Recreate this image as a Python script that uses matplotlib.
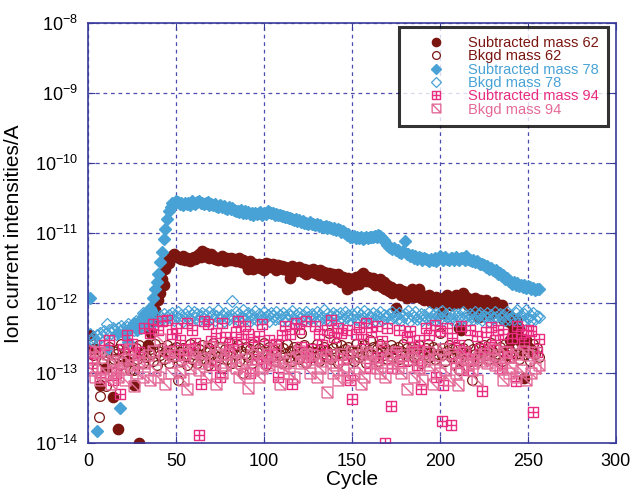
import numpy as np
import matplotlib
matplotlib.use("Agg")
import matplotlib.pyplot as plt
from matplotlib.path import Path

plt.rcParams['font.family'] = ['Liberation Sans', 'DejaVu Sans']
plt.rcParams['mathtext.default'] = 'regular'

# ion currents per cycle, stored in units of 1e-14 A (0 = not positive, not drawn)
cycles = np.arange(1, 257)

sub62 = [
    35, 0, 22, 0, 0, 0, 6.8, 0, 0, 12, 0, 0, 0, 4.6, 0, 0,
    1.6, 0, 0, 0, 0, 15, 0, 0, 0, 6.8, 0, 0, 1.0, 0, 0, 0,
    0, 25, 0, 38, 55, 80, 130, 110, 140, 220, 180, 310, 400, 380, 450, 470,
    500, 480, 460, 450, 430, 470, 420, 450, 410, 400, 440, 460, 430, 480, 500, 460,
    550, 480, 520, 460, 440, 500, 470, 430, 450, 420, 450, 470, 430, 400, 440, 420,
    450, 410, 430, 400, 420, 440, 390, 410, 380, 360, 310, 400, 350, 310, 370, 340,
    360, 320, 350, 300, 380, 340, 360, 330, 360, 340, 300, 350, 320, 340, 310, 330,
    300, 320, 230, 340, 310, 290, 320, 330, 300, 280, 310, 260, 300, 280, 290, 310,
    270, 290, 250, 300, 260, 280, 250, 230, 270, 240, 260, 250, 220, 260, 230, 200,
    240, 210, 160, 230, 200, 220, 180, 240, 210, 190, 250, 270, 230, 210, 240, 220,
    200, 230, 180, 210, 190, 220, 170, 200, 160, 180, 150, 170, 140, 160, 87, 150,
    160, 130, 150, 140, 120, 145, 130, 160, 125, 140, 135, 160, 120, 130, 110, 125,
    115, 130, 105, 120, 100, 125, 110, 115, 73, 120, 105, 130, 110, 95, 115, 120,
    130, 100, 45, 42, 140, 110, 125, 95, 115, 80, 105, 120, 90, 63, 110, 100,
    95, 110, 85, 100, 70, 90, 105, 75, 80, 80, 95, 60, 70, 55, 65, 30,
    50, 40, 60, 35, 45, 28, 25, 8.5, 30, 24, 0, 0, 0, 0, 0, 0,
]

bkg62 = [
    30, 27, 18, 22, 12, 2.4, 4.7, 20, 15, 6.6, 18, 24, 14, 21, 16, 19,
    22, 13, 26, 17, 20, 15, 24, 11, 19, 11, 23, 16, 25, 18, 14, 21,
    17, 24, 22, 19, 15, 26, 13, 21, 18, 23, 16, 20, 25, 14, 19, 22,
    17, 24, 8, 20, 15, 23, 18, 13, 21, 26, 16, 19, 24, 14, 22, 18,
    25, 16, 20, 13, 23, 18, 27, 15, 21, 17, 24, 12, 19, 22, 16, 28,
    20, 14, 23, 18, 25, 15, 21, 10, 19, 24, 17, 22, 14, 26, 18, 20,
    23, 16, 21, 27, 13, 19, 24, 17, 22, 15, 20, 25, 18, 14, 23, 19,
    26, 17, 21, 15, 24, 19, 22, 16, 38, 20, 25, 14, 21, 18, 23, 17,
    20, 26, 15, 22, 19, 24, 17, 21, 38, 16, 23, 19, 27, 14, 20, 25,
    18, 22, 16, 24, 19, 21, 15, 26, 20, 17, 23, 18, 25, 14, 21, 30,
    19, 24, 17, 22, 15, 26, 20, 18, 23, 16, 21, 25, 17, 22, 19, 24,
    16, 21, 26, 18, 23, 15, 20, 24, 17, 22, 19, 25, 14, 21, 18, 23,
    26, 17, 20, 24, 16, 22, 19, 38, 18, 23, 15, 21, 25, 17, 22, 19,
    24, 16, 11, 20, 23, 18, 21, 26, 15, 8, 22, 19, 15, 24, 17, 21,
    25, 18, 22, 16, 27, 20, 17, 23, 19, 24, 15, 21, 26, 18, 22, 20,
    17, 25, 19, 23, 16, 21, 28, 18, 24, 20, 15, 22, 26, 19, 23, 17,
]

sub78 = [
    120, 0, 0, 0, 1.5, 0, 0, 0, 0, 0, 22, 0, 0, 0, 0, 0,
    38, 3.2, 0, 0, 36, 0, 28, 45, 0, 52, 0, 41, 55, 0, 62, 70,
    58, 75, 87, 80, 120, 158, 200, 260, 390, 540, 830, 1140, 1620, 2100, 2400, 2700,
    2650, 2850, 2780, 2600, 2700, 2550, 2680, 2620, 2750, 2580, 2850, 2700, 2620, 2760, 2900, 2680,
    2750, 2600, 2700, 2820, 2560, 2650, 2500, 2600, 2450, 2380, 2500, 2350, 2420, 2300, 2250, 2350,
    2200, 2280, 2150, 2050, 2100, 2000, 2120, 1980, 2050, 1950, 2000, 1900, 1980, 1850, 1950, 1880,
    1920, 2000, 1850, 1950, 1900, 2050, 2000, 1920, 1980, 1850, 1900, 1800, 1850, 1750, 1780, 1700,
    1720, 1650, 1680, 1600, 1550, 1620, 1500, 1560, 1450, 1480, 1400, 1420, 1380, 1450, 1350, 1380,
    1300, 1350, 1280, 1320, 1250, 1220, 1280, 1200, 1250, 1180, 1150, 1200, 1120, 1150, 1100, 1050,
    1080, 1000, 950, 980, 900, 880, 920, 860, 900, 850, 880, 830, 870, 900, 850, 880,
    880, 900, 920, 900, 950, 920, 870, 800, 740, 680, 640, 620, 600, 610, 580, 570,
    540, 520, 550, 780, 500, 510, 470, 490, 450, 470, 430, 460, 440, 420, 450, 430,
    410, 400, 430, 420, 450, 400, 430, 470, 440, 420, 460, 430, 410, 450, 440, 420,
    460, 430, 410, 440, 450, 420, 480, 430, 410, 400, 420, 390, 400, 380, 370, 360,
    350, 330, 345, 310, 320, 295, 290, 300, 265, 270, 245, 250, 225, 230, 205, 210,
    190, 200, 180, 195, 175, 185, 170, 180, 165, 175, 170, 160, 168, 155, 162, 158,
]

bkg78 = [
    36, 30, 33, 28, 35, 31, 38, 34, 40, 36, 50, 42, 38, 45, 41, 37,
    44, 40, 47, 43, 39, 46, 50, 44, 48, 42, 55, 47, 51, 45, 73, 52,
    56, 49, 60, 77, 53, 58, 62, 55, 66, 59, 70, 57, 64, 68, 61, 72,
    58, 66, 75, 60, 69, 56, 71, 63, 78, 59, 67, 74, 62, 70, 57, 65,
    73, 60, 68, 55, 76, 63, 70, 58, 66, 80, 61, 69, 56, 72, 64, 59,
    68, 108, 62, 75, 57, 70, 64, 79, 60, 67, 73, 56, 69, 62, 77, 58,
    71, 65, 59, 74, 63, 68, 56, 72, 66, 60, 76, 62, 69, 57, 73, 64,
    58, 70, 65, 78, 60, 67, 55, 73, 62, 69, 57, 75, 64, 59, 71, 66,
    61, 74, 56, 68, 63, 79, 60, 70, 57, 66, 73, 62, 68, 55, 72, 64,
    59, 76, 63, 69, 57, 71, 65, 60, 74, 58, 67, 62, 78, 56, 70, 64,
    61, 73, 58, 68, 64, 75, 57, 69, 62, 66, 71, 59, 76, 63, 67, 60,
    72, 58, 65, 70, 61, 77, 56, 68, 63, 74, 59, 66, 71, 57, 69, 64,
    60, 75, 62, 67, 58, 72, 65, 61, 78, 57, 69, 63, 73, 59, 66, 70,
    56, 71, 64, 60, 74, 62, 68, 57, 70, 65, 59, 76, 61, 67, 72, 58,
    66, 63, 73, 56, 69, 61, 75, 64, 58, 70, 62, 67, 57, 74, 60, 68,
    64, 59, 72, 80, 61, 67, 56, 70, 80, 62, 69, 58, 73, 60, 66, 63,
]

sub94 = [
    0, 14, 0, 20, 0, 0, 9, 0, 25, 0, 0, 30, 0, 8, 0, 10,
    0, 5, 0, 22, 0, 35, 0, 0, 26, 18, 0, 0, 20, 0, 0, 45,
    0, 0, 38, 0, 50, 0, 0, 42, 0, 55, 0, 0, 58, 21, 0, 36,
    0, 45, 0, 30, 0, 18, 0, 52, 22, 0, 41, 0, 27, 0, 1.3, 7,
    0, 56, 0, 50, 0, 29, 0, 13, 38, 0, 9, 52, 0, 33, 0, 21,
    0, 26, 0, 39, 55, 0, 31, 0, 48, 0, 36, 10, 0, 28, 0, 16,
    34, 0, 50, 0, 14, 0, 30, 18, 0, 0, 26, 9, 0, 35, 0, 48,
    0, 0, 37, 7, 0, 52, 0, 43, 24, 0, 0, 56, 17, 0, 22, 0,
    47, 0, 36, 0, 25, 0, 19, 41, 0, 58, 0, 33, 0, 45, 0, 38,
    16, 0, 41, 0, 8, 4.3, 0, 36, 0, 46, 0, 31, 0, 53, 0, 12,
    39, 0, 0, 48, 17, 0, 29, 0, 1.0, 44, 0, 3.4, 12, 0, 20, 0,
    42, 0, 15, 0, 33, 0, 40, 0, 24, 0, 13, 30, 6.0, 0, 21, 45,
    0, 35, 0, 0, 49, 9, 0, 40, 2.1, 6.8, 0, 44, 0, 1.8, 32, 0,
    14, 0, 25, 48, 0, 20, 0, 11, 42, 0, 16, 0, 34, 0, 22, 5.5,
    0, 39, 0, 24, 46, 0, 30, 0, 41, 0, 12, 36, 0, 21, 0, 17,
    32, 0, 7.8, 48, 0, 37, 0, 28, 0, 42, 0, 40, 2.8, 0, 20, 31,
]

bkg94 = [
    21, 11, 17, 9, 0, 20, 8, 12, 0, 10, 19, 0, 7, 15, 11, 0,
    9, 14, 0, 12, 8, 16, 0, 22, 13, 6.5, 0, 10, 15, 0, 9, 14,
    0, 18, 8, 0, 21, 11, 0, 9, 31, 0, 17, 7, 0, 20, 10, 0,
    18, 0, 16, 10.5, 0, 8, 19, 5.9, 0, 12, 21, 0, 17, 0, 11, 14,
    0, 16, 9, 0, 24, 15, 0, 18, 7, 0, 22, 10, 0, 13, 19, 0,
    15, 0, 21, 12, 0, 9, 14, 0, 10, 16, 6.2, 0, 18, 11, 0, 20,
    9, 0, 12, 17, 0, 19, 13, 0, 16, 22, 0, 15, 7, 0, 12, 14,
    0, 10, 16, 0, 9, 17, 0, 21, 14, 0, 15, 19, 0, 10, 18, 0,
    16, 9, 0, 12, 15, 0, 17, 5.4, 0, 18, 10, 0, 13, 8, 0, 19,
    11, 0, 9, 17, 0, 21, 10, 0, 18, 12, 7, 0, 9, 20, 0, 15,
    19, 0, 14, 12, 0, 10, 22, 0, 9, 16, 0, 18, 14, 0, 20, 12,
    0, 10, 18, 0, 5.9, 16, 0, 21, 9, 0, 19, 12, 0, 8, 15, 0,
    20, 13, 0, 7, 16, 0, 18, 10, 0, 22, 11, 0, 8, 19, 0, 17,
    10, 6.9, 0, 12, 20, 0, 16, 13, 0, 11, 14, 0, 8, 17, 0, 15,
    19, 0, 14, 16, 0, 22, 13, 0, 18, 12, 0, 8, 20, 0, 10, 17,
    12, 0, 9, 19, 0, 11, 21, 0, 8, 18, 0, 10, 20, 12, 0, 13,
]

brown = '#7a1510'
blue = '#48a2d6'
pink = '#ea2c80'
pink_light = '#e46a98'

# square marker with a cross inside, and square marker with one diagonal
M, L = Path.MOVETO, Path.LINETO
box = [(-1, -1), (1, -1), (1, 1), (-1, 1), (-1, -1)]
grid_marker = Path(box + [(0, -1), (0, 1), (-1, 0), (1, 0)],
                   [M, L, L, L, L, M, L, M, L])
diag_marker = Path(box + [(-1, 1), (1, -1)],
                   [M, L, L, L, L, M, L])


def amps(vals):
    a = np.array(vals, dtype=float) * 1e-14
    a[a <= 0] = np.nan
    return a


fig = plt.figure(figsize=(6.3, 4.94), dpi=100)
ax = fig.add_axes([0.1397, 0.1026, 0.838, 0.8502])

ax.plot(cycles, amps(sub62), 'o', ms=7.4, color=brown, mec=brown,
        label='Subtracted mass 62')
ax.plot(cycles, amps(bkg62), 'o', ms=7.0, mfc='none', mec=brown, mew=0.9,
        label='Bkgd mass 62')
ax.plot(cycles, amps(sub78), 'D', ms=6.5, color=blue, mec=blue,
        label='Subtracted mass 78')
ax.plot(cycles, amps(bkg78), 'D', ms=6.5, mfc='none', mec=blue, mew=0.9,
        label='Bkgd mass 78')
ax.plot(cycles, amps(sub94), ls='none', marker=grid_marker, ms=7.5,
        mfc='none', mec=pink, mew=1.0, label='Subtracted mass 94')
ax.plot(cycles, amps(bkg94), ls='none', marker=diag_marker, ms=7.8,
        mfc='none', mec=pink_light, mew=1.0, label='Bkgd mass 94')

ax.set_yscale('log')
ax.set_xlim(0, 300)
ax.set_ylim(1e-14, 1e-8)
ax.set_xticks(np.arange(0, 301, 50))
ax.minorticks_off()
ax.tick_params(direction='in', top=True, right=True, length=5,
               color='#3a3a9a', labelsize=13, pad=7)
for s in ax.spines.values():
    s.set_color('#3a3a9a')
    s.set_linewidth(1.2)
ax.grid(True, color='#4d4db0', linestyle=(0, (3, 3)), linewidth=0.9)
ax.set_axisbelow(True)

ax.set_xlabel('Cycle', fontsize=15, labelpad=0)
ax.set_ylabel('Ion current intensities/A', fontsize=15, labelpad=9)

leg = ax.legend(loc='upper right', bbox_to_anchor=(0.985, 0.992),
                fontsize=10.5, frameon=True, fancybox=False, borderpad=0.65,
                labelspacing=-0.05, handlelength=3.8, handletextpad=0.25,
                markerscale=0.8, borderaxespad=0)
leg.get_frame().set_edgecolor('black')
leg.get_frame().set_linewidth(2.2)
for txt, c in zip(leg.get_texts(), [brown, brown, blue, blue, pink, pink_light]):
    txt.set_color(c)

fig.savefig('out.png', dpi=100)
